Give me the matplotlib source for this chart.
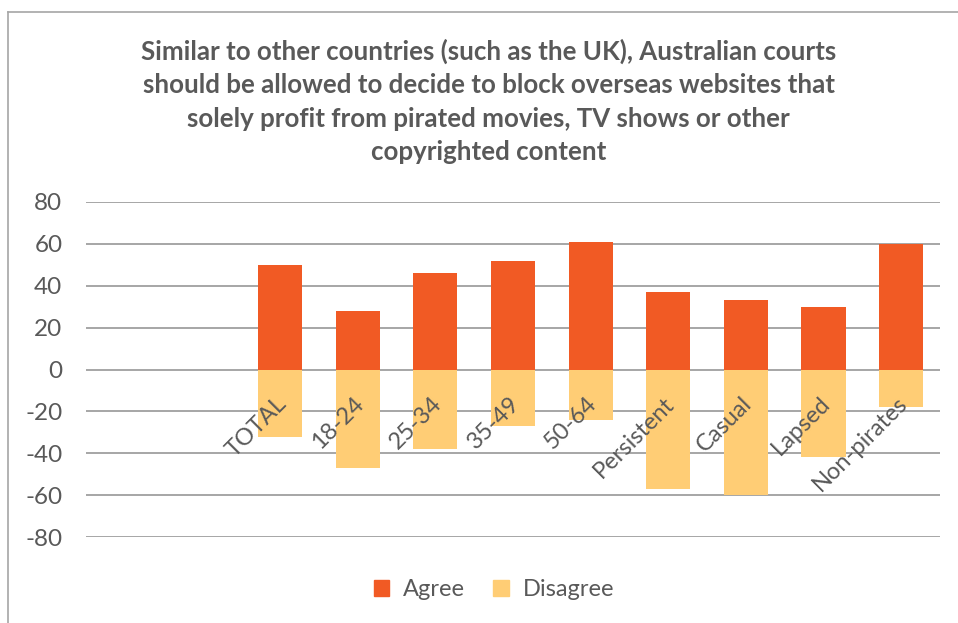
import matplotlib
matplotlib.use("Agg")
import matplotlib.pyplot as plt
from matplotlib.lines import Line2D
from matplotlib.patches import Patch
import matplotlib.transforms as mtransforms

categories = ["TOTAL", "18-24", "25-34", "35-49", "50-64", "Persistent", "Casual", "Lapsed", "Non-pirates"]
agree = [50, 28, 46, 52, 61, 37, 33, 30, 60]
disagree = [-32, -47, -38, -27, -24, -57, -60, -42, -18]
yticks = [-80, -60, -40, -20, 0, 20, 40, 60, 80]
title = ("Similar to other countries (such as the UK), Australian courts\n"
         "should be allowed to decide to block overseas websites that\n"
         "solely profit from pirated movies, TV shows or other\n"
         "copyrighted content")

AGREE_C = "#F15A24"
DIS_C = "#FFCD75"
TXT = "#595959"
GRID = "#A6A6A6"
FONT = "Lato"

fig = plt.figure(figsize=(9.58, 6.23), dpi=100)
ax = fig.add_axes([86/958, 86/623, (940-86)/958, (537-202)/623])

x = list(range(len(categories)))
ax.bar(x, agree, width=0.57, color=AGREE_C, zorder=3, label="Agree")
ax.bar(x, disagree, width=0.57, color=DIS_C, zorder=3, label="Disagree")

ax.set_xlim(-2.5, 8.5)
ax.set_ylim(-80, 80)
ax.set_yticks(yticks)
ax.set_yticklabels([str(v) for v in yticks], fontsize=17.5, color=TXT, family=FONT)
ax.tick_params(axis="y", length=0, pad=17)
ax.set_xticks([])
for s in ax.spines.values():
    s.set_visible(False)
for v in yticks:
    ax.axhline(v, color=GRID, lw=1.4, zorder=1)

off = mtransforms.offset_copy(ax.transData, fig=fig, x=3, y=-31, units="dots")
for xi, c in zip(x, categories):
    ax.text(xi, 0, c, transform=off, rotation=45, rotation_mode="anchor",
            ha="right", va="center", fontsize=17, color=TXT, family=FONT, zorder=5)

fig.text(0.51, 1 - 101.5/623, title, ha="center", va="center", fontsize=18.6,
         fontweight="bold", color=TXT, family=FONT, linespacing=1.47)

handles = [Patch(color=AGREE_C), Patch(color=DIS_C)]
leg = fig.legend(handles, ["Agree", "Disagree"], loc="center", bbox_to_anchor=(494/958, 1 - 590/623),
                 ncol=2, frameon=False, handlelength=0.65, handleheight=0.65, handletextpad=0.6,
                 columnspacing=1.2, prop={"family": FONT, "size": 17})
for t in leg.get_texts():
    t.set_color(TXT)

fig.add_artist(Line2D([8/958, 8/958], [0, 1 - 12/623], color="#A6A6A6", lw=1.2, transform=fig.transFigure))
fig.add_artist(Line2D([8/958, 1], [1 - 12/623, 1 - 12/623], color="#A6A6A6", lw=1.2, transform=fig.transFigure))

fig.savefig("out.png", dpi=100)
